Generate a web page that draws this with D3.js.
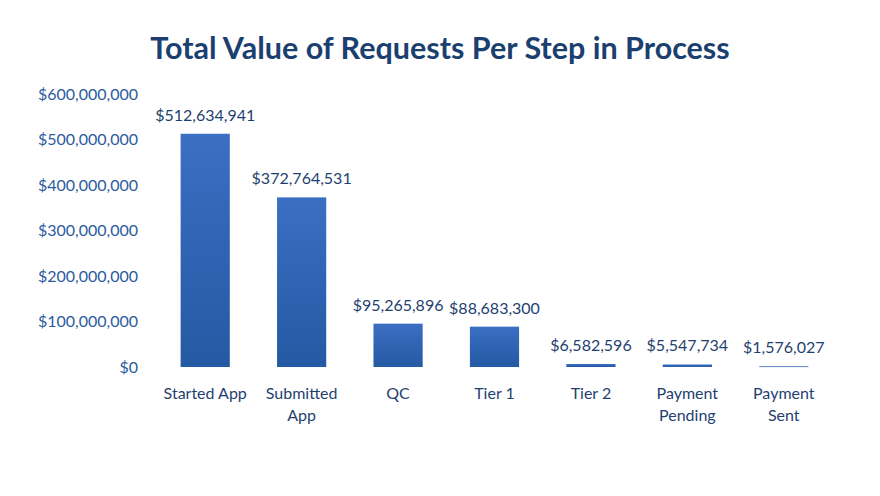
<!DOCTYPE html>
<html>
<head>
<meta charset="utf-8">
<script src="https://cdn.jsdelivr.net/npm/d3@7"></script>
<style>
  body { margin: 0; background: #fff; }
  svg { display: block; font-family: Lato, "Open Sans", sans-serif; }
</style>
</head>
<body>
<svg></svg>
<script>
// steps in the process and total request value for each
var categories = ['Started App', 'Submitted App', 'QC', 'Tier 1', 'Tier 2', 'Payment Pending', 'Payment Sent'];
var values = [512634941, 372764531, 95265896, 88683300, 6582596, 5547734, 1576027];
var yTicks = [0, 100000000, 200000000, 300000000, 400000000, 500000000, 600000000];
// category labels broken over two lines like the original
var catLines = [['Started App'], ['Submitted', 'App'], ['QC'], ['Tier 1'], ['Tier 2'], ['Payment', 'Pending'], ['Payment', 'Sent']];

var svgWidth = 880, svgHeight = 496;

var svg = d3.select('svg')
    .attr('width', svgWidth)
    .attr('height', svgHeight);

var xScale = d3.scaleBand()
    .domain(categories)
    .range([157, 832])
    .paddingInner(0.49)
    .paddingOuter(0.245);

var yScale = d3.scaleLinear()
    .domain([0, 600000000])
    .range([367, 94]);

var money = d3.format('$,');

// vertical gradient for the bars
var grad = svg.append('defs').append('linearGradient')
    .attr('id', 'barGrad')
    .attr('x1', 0).attr('y1', 0).attr('x2', 0).attr('y2', 1);
grad.append('stop').attr('offset', '0%').attr('stop-color', '#3a6fc3');
grad.append('stop').attr('offset', '100%').attr('stop-color', '#2459a3');

svg.append('text')
    .attr('x', 440)
    .attr('y', 59)
    .attr('text-anchor', 'middle')
    .attr('font-size', 30.5)
    .attr('font-weight', 'bold')
    .attr('fill', '#1b3f6f')
    .text('Total Value of Requests Per Step in Process');

// y axis: labels only, no line or ticks
var yAxis = svg.append('g')
    .attr('transform', 'translate(138,0)')
    .call(d3.axisLeft(yScale).tickValues(yTicks).tickFormat(money).tickSize(0).tickPadding(0));
yAxis.select('.domain').remove();
yAxis.selectAll('text')
    .attr('font-size', 16)
    .attr('font-family', 'Lato, "Open Sans", sans-serif')
    .attr('fill', '#2b5b9e');

svg.selectAll('rect.bar')
    .data(values)
    .enter()
    .append('rect')
    .attr('class', 'bar')
    .attr('x', function(d, i) { return xScale(categories[i]); })
    .attr('y', function(d) { return yScale(d); })
    .attr('width', xScale.bandwidth())
    .attr('height', function(d) { return Math.max(yScale(0) - yScale(d), 0.8); })
    .attr('fill', 'url(#barGrad)');

svg.selectAll('text.value')
    .data(values)
    .enter()
    .append('text')
    .attr('class', 'value')
    .attr('x', function(d, i) { return xScale(categories[i]) + xScale.bandwidth() / 2; })
    .attr('y', function(d) { return yScale(d) - 13; })
    .attr('text-anchor', 'middle')
    .attr('font-size', 16)
    .attr('fill', '#1f3f70')
    .text(function(d) { return money(d); });

var catText = svg.selectAll('text.cat')
    .data(catLines)
    .enter()
    .append('text')
    .attr('class', 'cat')
    .attr('text-anchor', 'middle')
    .attr('font-size', 16)
    .attr('fill', '#1f3f70');

catText.selectAll('tspan')
    .data(function(d, i) { return d.map(function(s) { return {s: s, i: i}; }); })
    .enter()
    .append('tspan')
    .attr('x', function(d) { return xScale(categories[d.i]) + xScale.bandwidth() / 2; })
    .attr('y', function(d, j) { return 399 + j * 22; })
    .text(function(d) { return d.s; });
</script>
</body>
</html>
